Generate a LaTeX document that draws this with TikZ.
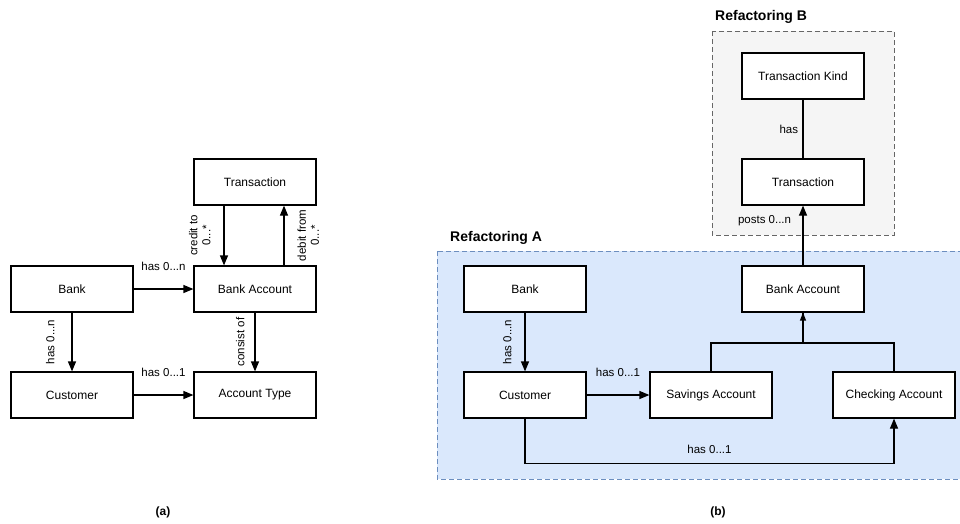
\documentclass[tikz,border=0pt]{standalone}
\usepackage{fontspec}
\setmainfont{Liberation Sans}
\usetikzlibrary{positioning,arrows.meta}
\definecolor{GroupBlue}{HTML}{DAE8FC}
\definecolor{GroupBlueLine}{HTML}{6C8EBF}
\definecolor{GroupGray}{HTML}{F5F5F5}
\definecolor{GroupGrayLine}{HTML}{666666}

\begin{document}
\begin{tikzpicture}[x=1pt,y=-1pt,
    entity/.style={draw,line width=1.2pt,fill=white,minimum width=122pt,minimum height=46pt,font=\fontsize{12}{14}\selectfont},
    rel/.style={line width=1.2pt,-{Triangle[length=10pt,width=8pt]}},
    lbl/.style={font=\fontsize{11.5}{13}\selectfont,align=center},
    vlbl/.style={lbl,rotate=90,anchor=south,inner ysep=#1},
    group/.style={line width=1pt,dash pattern=on 5pt off 3pt},
    title/.style={font=\bfseries\fontsize{14}{16}\selectfont,anchor=west,inner sep=0pt},
    caption/.style={font=\bfseries\fontsize{12}{14}\selectfont}]
    \useasboundingbox (0,0) rectangle (960,523);
    % (a) original model
    \node[entity] (trans) at (255,182) {Transaction};
    \node[entity] (bank) at (72,289) {Bank};
    \node[entity] (bacc) at (255,289) {Bank Account};
    \node[entity] (cust) at (72,395) {Customer};
    \node[entity] (atype) at (255,395) {Account Type};
    \draw[rel] (bank) -- (bacc) node[lbl,midway,above=14pt] {has 0...n};
    \draw[rel] (cust) -- (atype) node[lbl,midway,above=14pt] {has 0...1};
    \draw[rel] (bank) -- (cust) node[vlbl=17pt,midway] {has 0...n};
    \draw[rel] (bacc) -- (atype) node[vlbl=10pt,midway] {consist of};
    \draw[rel] ([xshift=-31pt]trans.south) -- ([xshift=-31pt]bacc.north) node[vlbl=13pt,midway] {credit to\\0...*};
    \draw[rel] ([xshift=29pt]bacc.north) -- ([xshift=29pt]trans.south) node[vlbl=13pt,anchor=north,midway] {debit from\\0...*};
    \node[caption] (capa) at (163,512) {(a)};
    % (b) refactored model
    \draw[group,draw=GroupBlueLine,fill=GroupBlue] (437,251) rectangle (964,479);
    \node[title] (titleA) at (450,238) {Refactoring A};
    \draw[group,draw=GroupGrayLine,fill=GroupGray] (712,31) rectangle (894,235);
    \node[title] (titleB) at (715,17) {Refactoring B};
    \node[entity] (kind) at (803,76) {Transaction Kind};
    \node[entity] (trans2) at (803,182) {Transaction};
    \node[entity] (bacc2) at (803,289) {Bank Account};
    \node[entity] (bank2) at (525,289) {Bank};
    \node[entity] (cust2) at (525,395) {Customer};
    \node[entity] (sav) at (711,395) {Savings Account};
    \node[entity] (check) at (894,395) {Checking Account};
    \draw[line width=1.2pt] (kind) -- (trans2) node[lbl,midway,left=1pt] {has};
    \draw[rel] (bacc2) -- (trans2) node[lbl,pos=0.75,left=8pt] {posts 0...n};
    \draw[rel] (bank2) -- (cust2) node[vlbl=13pt,midway] {has 0...n};
    \draw[rel] (cust2) -- (sav) node[lbl,midway,above=14pt] {has 0...1};
    \draw[rel] (cust2.south) -- ++(0,45) -| (check.south) node[lbl,pos=0.25,above=6pt] {has 0...1};
    \coordinate (split) at (803,343);
    \draw[line width=1.2pt] (sav.north) |- (split) -| (check.north);
    \draw[line width=1.2pt] (split) -- (bacc2.south);
    \draw[line width=1.2pt,-{Triangle[open,length=8pt,width=6pt]}] (split) -- (bacc2.south);
    \node[caption] (capb) at (718,512) {(b)};
\end{tikzpicture}
\end{document}
